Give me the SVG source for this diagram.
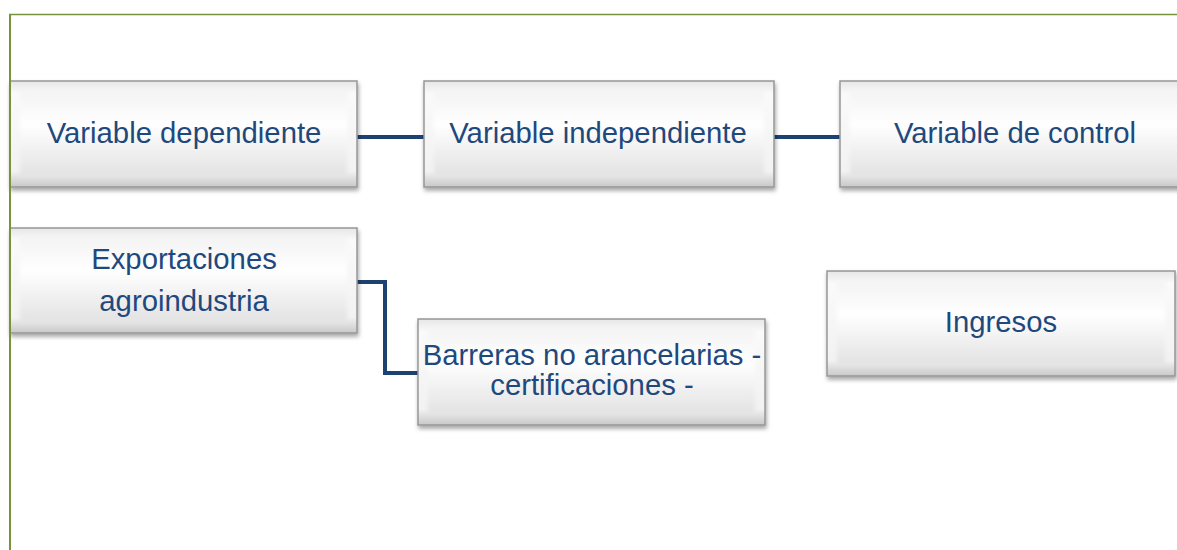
<svg xmlns="http://www.w3.org/2000/svg" width="1177" height="550" viewBox="0 0 1177 550">
<defs>
<linearGradient id="gOuter" x1="0" y1="0" x2="0" y2="1">
<stop offset="0" stop-color="#e6e6e6"/>
<stop offset="0.12" stop-color="#fafafa"/>
<stop offset="0.85" stop-color="#f2f2f2"/>
<stop offset="1" stop-color="#c8c8c8"/>
</linearGradient>
<linearGradient id="gInner" x1="0" y1="0" x2="0" y2="1">
<stop offset="0" stop-color="#f3f3f3"/>
<stop offset="0.4" stop-color="#ffffff"/>
<stop offset="1" stop-color="#e2e2e2"/>
</linearGradient>
<filter id="shadow" x="-5%" y="-10%" width="112%" height="130%">
<feDropShadow dx="1" dy="3" stdDeviation="2" flood-color="#000" flood-opacity="0.35"/>
</filter>
<filter id="soft" x="-5%" y="-10%" width="110%" height="120%">
<feGaussianBlur stdDeviation="2"/>
</filter>
</defs>
<style>
.box{fill:url(#gOuter);stroke:#969696;stroke-width:1.5;filter:url(#shadow);}
.face{fill:url(#gInner);filter:url(#soft);}
.lbl{font-family:"Liberation Sans",Arial,sans-serif;font-size:29.3px;fill:#1F497D;text-anchor:middle;}
.conn{fill:none;stroke:#1C4273;stroke-width:4;}
.frame{stroke:#77933C;fill:none;}
</style>
<rect width="1177" height="550" fill="#ffffff"/>
<g id="connectors">
<line class="conn" x1="357" y1="137" x2="424" y2="137"/>
<line class="conn" x1="774" y1="137" x2="840" y2="137"/>
<polyline class="conn" points="357,282 385,282 385,373 419,373"/>
</g>
<g id="n1">
<rect class="box" x="10" y="81" width="347" height="106"/>
<rect class="face" x="20" y="90" width="327" height="86"/>
<text class="lbl" x="184" y="143">Variable dependiente</text>
</g>
<g id="n2">
<rect class="box" x="424" y="81" width="350" height="106"/>
<rect class="face" x="434" y="90" width="330" height="86"/>
<text class="lbl" x="598" y="143">Variable independiente</text>
</g>
<g id="n3">
<rect class="box" x="840" y="81" width="350" height="106"/>
<rect class="face" x="850" y="90" width="330" height="86"/>
<text class="lbl" x="1015" y="143">Variable de control</text>
</g>
<g id="n4">
<rect class="box" x="10" y="228" width="347" height="105"/>
<rect class="face" x="20" y="237" width="327" height="85"/>
<text class="lbl" x="184" y="269">Exportaciones</text>
<text class="lbl" x="184" y="311">agroindustria</text>
</g>
<g id="n5">
<rect class="box" x="418" y="319" width="347" height="106"/>
<rect class="face" x="428" y="328" width="327" height="86"/>
<text class="lbl" x="592" y="365">Barreras no arancelarias -</text>
<text class="lbl" x="592" y="395">certificaciones -</text>
</g>
<g id="n6">
<rect class="box" x="827" y="271" width="348" height="105"/>
<rect class="face" x="837" y="280" width="328" height="85"/>
<text class="lbl" x="1001" y="332">Ingresos</text>
</g>
<g id="frame">
<line class="frame" x1="9" y1="14.5" x2="1177" y2="14.5" stroke-width="1.5"/>
<line class="frame" x1="10" y1="14" x2="10" y2="550" stroke-width="2"/>
</g>
</svg>
